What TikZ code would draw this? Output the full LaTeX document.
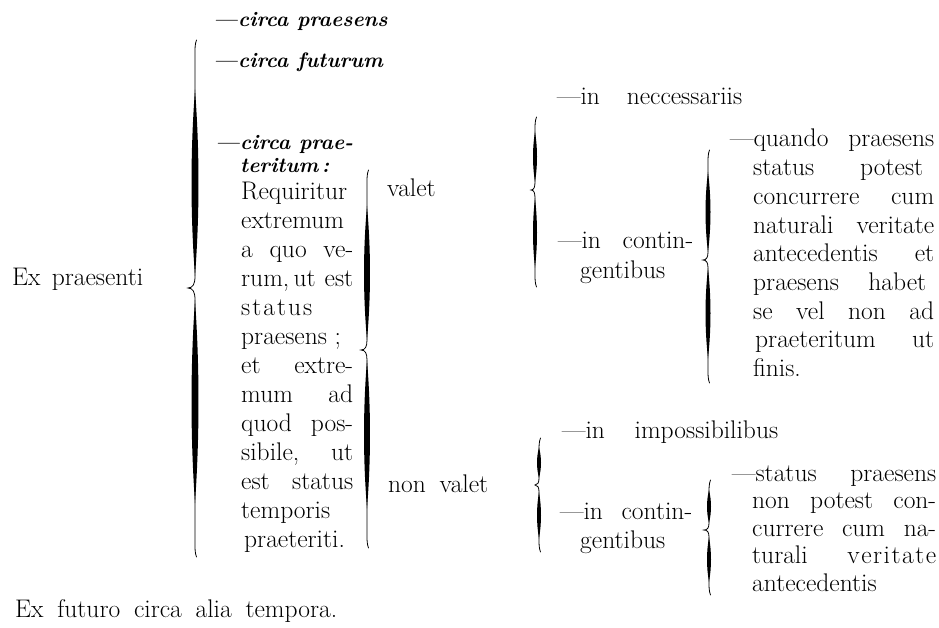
\documentclass[tikz,border=0pt]{standalone}
\usepackage{fontspec}
\newcommand\lft[1]{\hbox{#1}}
\newcommand\jus[2]{\hbox{\makebox[#1pt][s]{#2}}}
\newcommand\tbrace[7]{%
  \pgfmathsetmacro\bya{#2+0.2*(#3-#2)}%
  \pgfmathsetmacro\byb{#3-#7}%
  \pgfmathsetmacro\byc{#3+#7}%
  \pgfmathsetmacro\byd{#4-0.2*(#4-#3)}%
  \pgfmathsetmacro\bdd{1.33*#6}%
  \draw[bracestroke] ({#1+1.5},#2) .. controls (#1,{#2+4}) and (#1,{#2+8}) .. (#1,{#2+12})
    -- (#1,\byb) .. controls (#1,{#3-#7/3}) and ({#1-#5*0.3},#3) .. ({#1-#5},#3)
    .. controls ({#1-#5*0.3},#3) and (#1,{#3+#7/3}) .. (#1,\byc)
    -- (#1,{#4-12}) .. controls (#1,{#4-8}) and (#1,{#4-4}) .. ({#1+1.5},#4);
  \fill (#1,\bya) .. controls ({#1+\bdd},{\bya+(\byb-\bya)/3}) and ({#1+\bdd},{\bya+2*(\byb-\bya)/3}) .. (#1,\byb)
    .. controls ({#1-\bdd},{\bya+2*(\byb-\bya)/3}) and ({#1-\bdd},{\bya+(\byb-\bya)/3}) .. cycle;
  \fill (#1,\byc) .. controls ({#1+\bdd},{\byc+(\byd-\byc)/3}) and ({#1+\bdd},{\byc+2*(\byd-\byc)/3}) .. (#1,\byd)
    .. controls ({#1-\bdd},{\byc+2*(\byd-\byc)/3}) and ({#1-\bdd},{\byc+(\byd-\byc)/3}) .. cycle;
}
\tikzset{
  txt/.style={anchor=base west, inner sep=0pt, font=\fontsize{25.5}{29}\selectfont\addfontfeatures{FakeBold=0.6}},
  bi/.style={anchor=base west, inner sep=0pt, font=\fontsize{21}{25}\selectfont\bfseries\itshape},
  bracestroke/.style={line width=0.8pt, line cap=round}
}
\begin{document}
\begin{tikzpicture}[x=1pt,y=-1pt]
\fill[white] (0,0) rectangle (939,628);
\useasboundingbox (0,0) rectangle (939,628);

% left column
\node[txt] (expr) at (12,285) {\jus{131}{Ex praesenti}};
\node[txt] (exfut) at (15,617) {\jus{322}{Ex futuro circa alia tempora.}};

% first-level items
\node[bi] (cpraes) at (213,27) {---circa praesens};
\node[bi] (cfut) at (213,68) {---circa futurum};
\node[bi] (cpraet1) at (215,150) {---circa prae-};
\node[bi] (cpraet2) at (240,173) {teritum\,:};
\node[txt] (requ) at (241,200) {\vtop{\baselineskip=29pt
  \lft{Requiritur}
  \lft{extremum}
  \jus{112}{a quo ve-}
  \jus{112}{rum,\,ut est}
  \lft{s\kern2pt t\kern2pt a\kern2pt t\kern2pt u\kern2pt s}
  \lft{praesens ;}
  \jus{112}{et extre-}
  \jus{112}{mum ad}
  \jus{112}{quod pos-}
  \jus{112}{sibile, ut}
  \jus{112}{est status}
  \lft{temporis}
  \lft{\kern3pt praeteriti.}}};

% second level
\node[txt] (valet) at (387,197) {valet};
\node[txt] (nonvalet) at (388,492) {\jus{100}{non valet}};

% third level (valet)
\node[txt] (necc) at (557,105) {\jus{185}{---in neccessariis}};
\node[txt] (cont1a) at (558,249) {\jus{135}{---in contin-}};
\node[txt] (cont1b) at (580,278) {gentibus};

% third level (non valet)
\node[txt] (imposs) at (562,438) {\jus{216}{---in impossibilibus}};
\node[txt] (cont2a) at (560,519) {\jus{132}{---in contin-}};
\node[txt] (cont2b) at (580,548) {gentibus};

% fourth level (valet / contingentibus)
\node[txt] (quando) at (730,147) {\jus{204}{---quando praesens}};
\node[txt] (quandorest) at (753,175.7) {\vtop{\baselineskip=28.7pt
  \jus{170}{status potest}
  \jus{181}{concurrere cum}
  \jus{181}{naturali veritate}
  \jus{181}{antecedentis et}
  \jus{173}{praesens habet}
  \jus{181}{se vel non ad}
  \jus{181}{\kern2pt praeteritum ut}
  \lft{finis.}}};

% fourth level (non valet / contingentibus)
\node[txt] (status) at (732,481) {\jus{204}{---status praesens}};
\node[txt] (statusrest) at (752,508.6) {\vtop{\baselineskip=27.6pt
  \jus{184}{non potest con-}
  \jus{184}{currere cum na-}
  \jus{184}{turali v\kern1.5pt e\kern1.5pt r\kern1.5pt i\kern1.5pt t\kern1.5pt a\kern1.5pt t\kern1.5pt e}
  \lft{antecedentis}}};

% braces: x0, top, tip, bottom, amplitude, half-thickness, tip curve
\tbrace{195}{40}{288}{557}{7}{3.5}{12}
\tbrace{367}{170}{350}{548}{6}{3}{10}
\tbrace{535}{117}{190}{287}{4}{2}{8}
\tbrace{708}{150}{260}{383}{5}{2.5}{8}
\tbrace{539}{438}{485}{552}{4}{2}{7}
\tbrace{709}{480}{530}{595}{5}{2}{7}
\end{tikzpicture}
\end{document}
